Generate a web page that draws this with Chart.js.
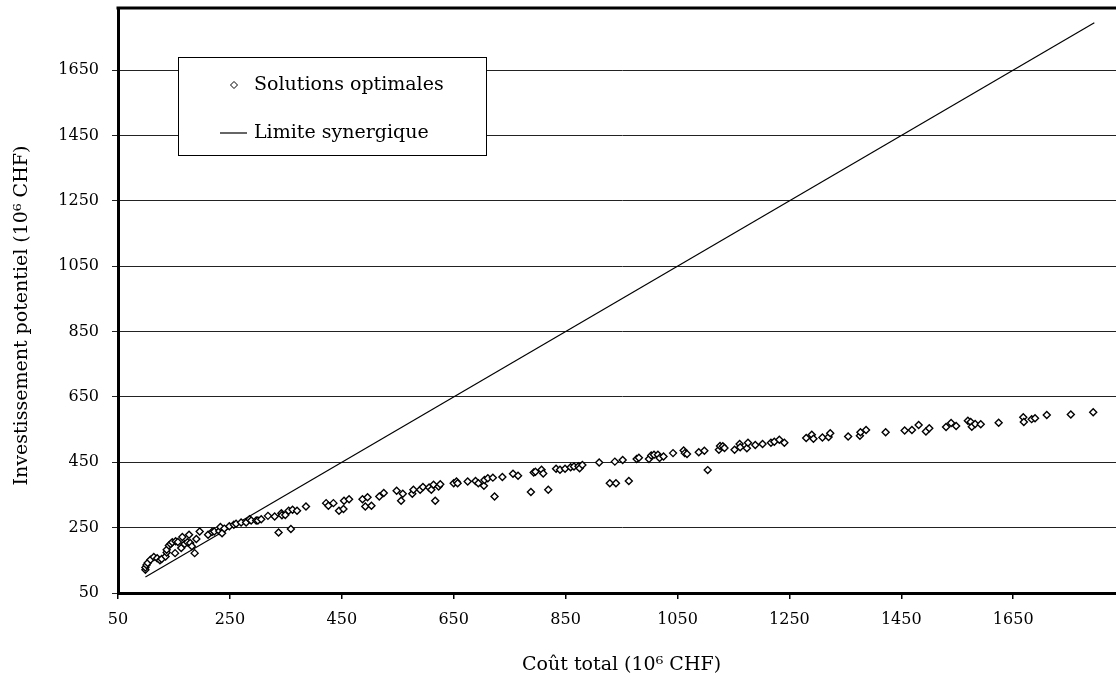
<!DOCTYPE html>
<html>
<head>
<meta charset="utf-8">
<script src="https://cdn.jsdelivr.net/npm/chart.js@4"></script>
<style>
  html, body { margin: 0; padding: 0; overflow: hidden; background: #fff; }
  #wrap { width: 1130px; height: 684px; }
</style>
</head>
<body>
<div id="wrap"><canvas id="myChart" width="1130" height="684"></canvas></div>
<script>
// solutions optimales: cout total / investissement potentiel (10^6 CHF)
const coutTotal = [
  99, 99, 101, 103, 108, 114, 120, 125, 128, 135, 137, 137, 141, 144, 147, 152, 153, 157, 163, 165,
  169, 174, 177, 179, 182, 187, 190, 196, 211, 218, 222, 231, 233, 236, 240, 249, 257, 261, 270, 279,
  285, 288, 297, 300, 306, 318, 330, 337, 342, 343, 349, 355, 359, 362, 370, 386,
  422, 426, 435, 445, 453, 454, 463, 487, 492, 496, 503, 517, 525, 548, 556, 559, 576, 578, 590, 595,
  606, 610, 614, 617, 623, 626, 650, 655, 657, 675, 689, 694, 704, 705, 711, 720, 723, 737, 756, 765,
  788, 793, 796, 807, 810, 819, 833, 840, 849, 859, 865, 873, 875, 880, 910, 929, 938, 940, 952, 963,
  977, 981, 999, 1003, 1008, 1015, 1018, 1025, 1042, 1061, 1063, 1067, 1088, 1098, 1104, 1124, 1126, 1131, 1134, 1152,
  1161, 1162, 1174, 1176, 1189, 1202, 1217, 1223, 1232, 1241, 1280, 1290, 1293, 1309, 1320, 1323, 1355, 1376, 1377, 1387,
  1422, 1456, 1469, 1481, 1494, 1500, 1530, 1539, 1548, 1569, 1574, 1576, 1582, 1592, 1624, 1668, 1669, 1683, 1689, 1710,
  1753, 1793
];
const investissement = [
  121, 128, 136, 142, 152, 160, 156, 150, 154, 162, 174, 182, 195, 200, 205, 172, 208, 206, 188, 221,
  200, 205, 228, 203, 193, 172, 215, 238, 228, 237, 238, 240, 252, 233, 247, 254, 259, 262, 266, 266,
  276, 272, 272, 272, 276, 286, 284, 235, 294, 288, 289, 302, 246, 305, 302, 315,
  325, 317, 325, 302, 307, 332, 337, 337, 315, 343, 317, 345, 356, 363, 332, 354, 354, 366, 366, 374,
  373, 366, 381, 332, 376, 383, 386, 391, 386, 391, 393, 386, 378, 396, 401, 403, 345, 405, 415, 409,
  359, 419, 421, 427, 416, 366, 430, 427, 430, 435, 437, 438, 432, 442, 449, 386, 452, 386, 457, 393,
  460, 464, 460, 471, 473, 473, 463, 468, 478, 486, 478, 475, 481, 485, 426, 488, 500, 499, 494, 488,
  506, 496, 493, 510, 503, 506, 510, 513, 519, 510, 524, 534, 522, 526, 527, 539, 529, 531, 542, 549,
  542, 547, 549, 564, 544, 554, 558, 570, 561, 577, 573, 559, 567, 566, 571, 588, 573, 582, 585, 595,
  596, 603
];
// limite synergique (investissement = cout)
const limiteX = [99, 1795];
const limiteY = [99, 1795];

const xTicks = [50, 250, 450, 650, 850, 1050, 1250, 1450, 1650];
const yTicks = [50, 250, 450, 650, 850, 1050, 1250, 1450, 1650];

const serif = "'DejaVu Serif', serif";

const points = coutTotal.map((c, i) => ({ x: c, y: investissement[i] }));
const limite = limiteX.map((c, i) => ({ x: c, y: limiteY[i] }));

// legend box drawn inside the plot, like the original
const boxLegend = {
  id: 'boxLegend',
  afterDraw(chart) {
    const ctx = chart.ctx;
    const ds = chart.data.datasets;
    const area = chart.chartArea;
    ctx.save();
    // top frame line
    ctx.strokeStyle = '#000';
    ctx.lineWidth = 3;
    ctx.beginPath();
    ctx.moveTo(area.left - 1.5, area.top);
    ctx.lineTo(area.right, area.top);
    ctx.stroke();

    const bx = 178.5, by = 57.5, bw = 308, bh = 98;
    ctx.fillStyle = '#fff';
    ctx.fillRect(bx, by, bw, bh);
    ctx.lineWidth = 1;
    ctx.strokeRect(bx, by, bw, bh);

    // Solutions optimales
    const y1 = 85;
    ctx.fillStyle = '#fff';
    ctx.strokeStyle = '#000';
    Chart.helpers.drawPoint(ctx, { pointStyle: 'rectRot', radius: 3.5, borderWidth: 1.4 }, 234, y1);

    ctx.font = "19px " + serif;
    ctx.fillStyle = '#000';
    ctx.textBaseline = 'middle';
    ctx.textAlign = 'left';
    ctx.fillText(ds[0].label, 254, y1);

    // Limite synergique
    const y2 = 133;
    ctx.beginPath();
    ctx.lineWidth = 1.2;
    ctx.moveTo(220, y2);
    ctx.lineTo(247, y2);
    ctx.stroke();
    ctx.fillText(ds[1].label, 254, y2);
    ctx.restore();
  }
};

const ctx = document.getElementById('myChart').getContext('2d');
const myChart = new Chart(ctx, {
  type: 'scatter',
  data: {
    datasets: [{
      label: 'Solutions optimales',
      data: points,
      pointStyle: 'rectRot',
      pointRadius: 3.5,
      pointHoverRadius: 3.5,
      borderColor: '#000',
      backgroundColor: '#fff',
      pointBorderWidth: 1.4,
      order: 1
    }, {
      label: 'Limite synergique',
      type: 'line',
      data: limite,
      borderColor: '#000',
      borderWidth: 1.2,
      pointRadius: 0,
      fill: false,
      order: 2
    }]
  },
  options: {
    responsive: false,
    animation: false,
    layout: { padding: { top: 8, right: 1, left: 0, bottom: 0 } },
    plugins: {
      legend: { display: false },
      tooltip: { enabled: false }
    },
    scales: {
      x: {
        type: 'linear',
        min: 50,
        max: 1850,
        afterBuildTicks: s => { s.ticks = xTicks.map(v => ({ value: v })); },
        afterFit: s => { s.height = 91; s.paddingLeft = 0; s.paddingRight = 0; },
        grid: { drawOnChartArea: false, drawTicks: true, tickLength: 6, color: '#000', lineWidth: 1.5 },
        border: { display: true, color: '#000', width: 3 },
        ticks: { color: '#000', font: { family: serif, size: 16 }, padding: 11, maxRotation: 0, callback: v => String(v) },
        title: {
          display: true,
          text: 'Coût total (10⁶ CHF)',
          color: '#000',
          font: { family: serif, size: 19 },
          padding: { top: 0, bottom: 8 }
        }
      },
      y: {
        type: 'linear',
        min: 50,
        max: 1840,
        afterBuildTicks: s => { s.ticks = yTicks.map(v => ({ value: v })); },
        afterFit: s => { s.width = 118; s.paddingTop = 0; s.paddingBottom = 0; },
        grid: { color: '#222', lineWidth: 1, drawTicks: true, tickLength: 6 },
        border: { display: true, color: '#000', width: 3 },
        ticks: { color: '#000', font: { family: serif, size: 16 }, padding: 13, callback: v => String(v) },
        title: {
          display: true,
          text: 'Investissement potentiel (10⁶ CHF)     ',
          color: '#000',
          font: { family: serif, size: 19 },
          padding: { top: 11, bottom: 0 }
        }
      }
    }
  },
  plugins: [boxLegend]
});
</script>
</body>
</html>
